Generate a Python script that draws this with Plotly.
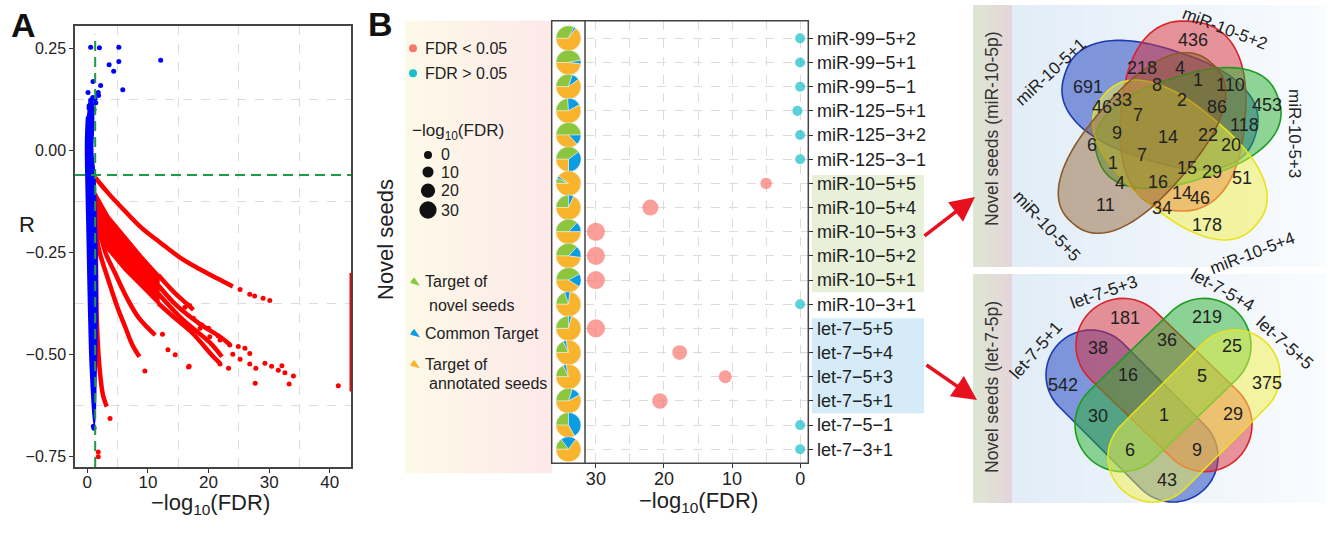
import math
import plotly.graph_objects as go

W, H = 1328, 535
FONT = "Liberation Sans, Arial, Helvetica, sans-serif"


def X(px):
    return px / W


def Y(py):
    return 1 - py / H


# ====================== Panel A data (x = -log10(FDR), y = R) ======================
fdr_cutoff = 1.3
r_cutoff = -0.06

blue_core_x = [0.2, 0.8, 1.0, 0.85, 1.2, 1.4, 1.55, 1.6, 1.55, 1.4, 1.3, 1.16, 0.95, 0.7, 0.45, 0.2, 0.0, -0.2, -0.25, -0.1]
blue_core_R = [0.125, 0.12, 0.07, 0.0, -0.06, -0.15, -0.25, -0.35, -0.45, -0.55, -0.62, -0.67, -0.64, -0.58, -0.5, -0.35, -0.2, -0.06, 0.02, 0.08]

blue_pts_x = [0.55, 2.0, 5.2, 12.1, 3.6, 5.2, 4.35, 5.85, 0.95, 2.2, 0.12, 1.8, 1.85, 0.6, 1.27, 1.4,
              0.28, 1.1, 0.15, 0.55, 0.3, 0.9, 1.0, 1.1]
blue_pts_R = [0.253, 0.252, 0.253, 0.221, 0.21, 0.218, 0.194, 0.149, 0.169, 0.159, 0.142, 0.142, 0.135, 0.124, 0.126, 0.117,
              0.104, 0.1, 0.08, 0.087, 0.11, 0.13, -0.675, -0.68]

red_fan_x = [1.3, 3.47, 6.22, 8.97, 11.7, 11.7, 8.97, 6.22, 3.47, 2.0, 1.3]
red_fan_R = [-0.105, -0.162, -0.211, -0.26, -0.305, -0.374, -0.333, -0.292, -0.243, -0.215, -0.2]

red_top_x = [1.3, 3.2, 6.0, 9.0, 12.0, 15.3, 18.5, 21.4, 24.0]
red_top_R = [-0.066, -0.10, -0.145, -0.19, -0.225, -0.262, -0.29, -0.313, -0.333]

red_f1_x = [11.7, 14.5, 16.4, 17.5]
red_f1_R = [-0.305, -0.35, -0.375, -0.39]
red_f2_x = [11.7, 14.75, 18.6, 21.9, 23.5]
red_f2_R = [-0.33, -0.38, -0.425, -0.456, -0.475]
red_f3_x = [11.7, 15.8, 20.2, 22.2]
red_f3_R = [-0.35, -0.415, -0.47, -0.505]
red_f4_x = [11.7, 14.5, 17.2, 20.8, 21.9]
red_f4_R = [-0.374, -0.411, -0.445, -0.505, -0.521]

red_l1_x = [1.4, 1.8, 3.47, 5.0, 6.22, 7.4, 8.6]
red_l1_R = [-0.17, -0.235, -0.317, -0.385, -0.431, -0.475, -0.505]
red_l2_x = [1.5, 3.0, 4.57, 6.5, 8.5, 11.2]
red_l2_R = [-0.16, -0.25, -0.3, -0.36, -0.41, -0.452]
red_s_x = [1.35, 1.45, 1.6, 2.1, 2.6, 3.2]
red_s_R = [-0.2, -0.3, -0.43, -0.546, -0.6, -0.627]

red_pts_x = [16.1, 16.9, 17.5, 18.9, 18.6, 20.0, 20.2, 21.6, 21.9, 23.5, 24.9, 26.0, 24.0, 25.2, 26.8, 26.8, 27.8,
             29.3, 30.4, 32.1, 31.5, 32.6, 34.0, 23.3, 21.9, 16.8, 27.7, 33.3, 41.4, 9.5, 3.75, 1.8, 1.8, 12.4,
             13.3, 14.5, 16.7, 25.2, 26.8, 27.6, 29.0, 30.1]
red_pts_R = [-0.384, -0.38, -0.411, -0.427, -0.435, -0.435, -0.456, -0.454, -0.464, -0.476, -0.48, -0.484, -0.499,
             -0.511, -0.497, -0.523, -0.533, -0.521, -0.528, -0.527, -0.538, -0.544, -0.552, -0.533, -0.523, -0.528,
             -0.570, -0.572, -0.576, -0.54, -0.656, -0.738, -0.75, -0.45, -0.488, -0.50, -0.53, -0.34, -0.352,
             -0.356, -0.362, -0.367]

red_edge_x = [43.5, 43.5]
red_edge_R = [-0.30, -0.59]

# ====================== Panel B data ======================
seeds = ["miR-99−5+2", "miR-99−5+1", "miR-99−5−1", "miR-125−5+1", "miR-125−3+2", "miR-125−3−1",
         "miR-10−5+5", "miR-10−5+4", "miR-10−5+3", "miR-10−5+2", "miR-10−5+1", "miR-10−3+1",
         "let-7−5+5", "let-7−5+4", "let-7−5+3", "let-7−5+1", "let-7−5−1", "let-7−3+1"]
neglog_fdr = [0, 0, 0, 0.4, 0, 0, 5.0, 22.0, 30, 30, 30, 0, 30, 17.7, 11.0, 20.6, 0, 0]
pie_novel = [0.32, 0.47, 0.30, 0.24, 0.50, 0.40, 0.07, 0.25, 0.37, 0.37, 0.42, 0.20, 0.25, 0.18, 0.18, 0.30, 0.25, 0.15]
pie_common = [0.03, 0.05, 0.10, 0.18, 0.13, 0.35, 0.03, 0.07, 0.13, 0.15, 0.17, 0.07, 0.04, 0.04, 0.04, 0.12, 0.42, 0.20]
pie_annot = [0.65, 0.48, 0.60, 0.58, 0.37, 0.25, 0.90, 0.68, 0.50, 0.48, 0.41, 0.73, 0.71, 0.78, 0.78, 0.58, 0.33, 0.65]
size_legend_vals = [0, 10, 20, 30]

# ====================== Venn data ======================
venn1_sets = ["miR-10-5+1", "miR-10-5+2", "miR-10-5+3", "miR-10-5+4", "miR-10-5+5"]
venn1_counts = [436, 691, 218, 4, 8, 1, 110, 453, 46, 33, 2, 86, 7, 118, 9, 14, 22, 20, 6, 7, 1, 15, 29, 51, 4,
                16, 14, 46, 11, 34, 178]
venn2_sets = ["let-7-5+1", "let-7-5+3", "let-7-5+4", "let-7-5+5"]
venn2_counts = [181, 219, 38, 36, 25, 542, 16, 5, 375, 30, 1, 29, 6, 9, 43]

# layout positions (pixels) for the venn numbers
venn1_lx = [1193, 1088, 1142, 1180, 1157, 1198, 1230, 1267, 1102, 1122, 1182, 1217, 1138, 1244, 1117, 1168, 1208,
            1231, 1092, 1142, 1113, 1187, 1212, 1242, 1120, 1158, 1182, 1200, 1105, 1162, 1207]
venn1_ly = [40, 87, 68, 68, 85, 80, 85, 105, 107, 100, 100, 107, 115, 125, 133, 137, 135, 145, 145, 155, 163, 168,
            172, 178, 183, 182, 193, 198, 205, 208, 225]
venn2_lx = [1125, 1207, 1098, 1167, 1232, 1063, 1128, 1202, 1267, 1098, 1164, 1233, 1130, 1197, 1167]
venn2_ly = [318, 317, 348, 340, 346, 385, 375, 376, 383, 416, 415, 414, 450, 450, 480]

# ====================== styles ======================
C_BLUE_PT = "#0000ff"
C_RED_PT = "#ff0000"
C_SIG = "#F8766D"
C_NS = "#16BFC6"
C_NOVEL = "#8cc63e"
C_COMMON = "#0b9de3"
C_ANNOT = "#f8b42c"

fig = go.Figure()

# ---------------- Panel A traces ----------------
A_XR = [-2.03, 43.5]
A_YR = [-0.775, 0.305]

fig.add_trace(go.Scatter(x=red_fan_x, y=red_fan_R, mode="lines", fill="toself", fillcolor=C_RED_PT,
                         line=dict(color=C_RED_PT, width=3), xaxis="x", yaxis="y", hoverinfo="skip"))
for cx, cy in [(red_top_x, red_top_R), (red_f1_x, red_f1_R), (red_f2_x, red_f2_R), (red_f3_x, red_f3_R),
               (red_f4_x, red_f4_R), (red_l1_x, red_l1_R), (red_l2_x, red_l2_R), (red_s_x, red_s_R)]:
    fig.add_trace(go.Scatter(x=cx, y=cy, mode="lines", line=dict(color=C_RED_PT, width=4.5, shape="spline"),
                             xaxis="x", yaxis="y", hoverinfo="skip"))
fig.add_trace(go.Scatter(x=red_pts_x, y=red_pts_R, mode="markers", marker=dict(color=C_RED_PT, size=5),
                         xaxis="x", yaxis="y", hoverinfo="skip"))
fig.add_trace(go.Scatter(x=red_edge_x, y=red_edge_R, mode="lines", line=dict(color=C_RED_PT, width=3),
                         xaxis="x", yaxis="y", hoverinfo="skip"))
fig.add_trace(go.Scatter(x=blue_core_x, y=blue_core_R, mode="lines", fill="toself", fillcolor=C_BLUE_PT,
                         line=dict(color=C_BLUE_PT, width=2, shape="spline"), xaxis="x", yaxis="y", hoverinfo="skip"))
fig.add_trace(go.Scatter(x=blue_pts_x, y=blue_pts_R, mode="markers", marker=dict(color=C_BLUE_PT, size=5),
                         xaxis="x", yaxis="y", hoverinfo="skip"))

# ---------------- Panel B dots ----------------
n = len(seeds)
ypos = [n - 1 - i for i in range(n)]
B_YR = [-0.58, n - 1 + 0.73]
dot_col = [C_SIG if v > fdr_cutoff else C_NS for v in neglog_fdr]
dot_size = [10 + 0.27 * v for v in neglog_fdr]
fig.add_trace(go.Scatter(x=neglog_fdr, y=ypos, mode="markers",
                         marker=dict(color=dot_col, size=dot_size, line=dict(width=0)),
                         xaxis="x2", yaxis="y2", hoverinfo="skip"))

# pies in the left column of panel B
B_TOP, B_BOT = 20.7, 463.3
for i in range(n):
    frac = (B_YR[1] - ypos[i]) / (B_YR[1] - B_YR[0])
    cy = B_TOP + frac * (B_BOT - B_TOP)
    cx = 568.5
    r = 12.5
    fig.add_trace(go.Pie(values=[pie_novel[i], pie_common[i], pie_annot[i]],
                         marker=dict(colors=[C_NOVEL, C_COMMON, C_ANNOT], line=dict(color="#f2f2f2", width=0.5)),
                         sort=False, direction="clockwise", rotation=270, textinfo="none", hoverinfo="skip",
                         showlegend=False,
                         domain=dict(x=[X(cx - r), X(cx + r)], y=[Y(cy + r), Y(cy - r)])))

shapes = []
annotations = []


def grad_strips(x0, x1, y0, y1, c0, c1, nstrip=30):
    for k in range(nstrip):
        t = k / (nstrip - 1)
        col = "rgb(%d,%d,%d)" % tuple(round(c0[j] + (c1[j] - c0[j]) * t) for j in range(3))
        xa = x0 + (x1 - x0) * k / nstrip
        xb = x0 + (x1 - x0) * (k + 1) / nstrip + 0.6
        shapes.append(dict(type="rect", xref="paper", yref="paper", x0=X(xa), x1=X(min(xb, x1)), y0=Y(y1), y1=Y(y0),
                           fillcolor=col, line=dict(width=0), layer="below"))


# legend background of panel B
grad_strips(405, 552, 20.7, 473.3, (253, 249, 232), (252, 233, 232))
# label highlights
shapes.append(dict(type="rect", xref="paper", yref="paper", x0=X(811.7), x1=X(924), y0=Y(292.3), y1=Y(175),
                   fillcolor="#e8f0da", line=dict(width=0), layer="below"))
shapes.append(dict(type="rect", xref="paper", yref="paper", x0=X(811.7), x1=X(924), y0=Y(413.3), y1=Y(318.3),
                   fillcolor="#d6ebf8", line=dict(width=0), layer="below"))
# venn panel backgrounds
for (t0, t1) in [(5, 267), (274, 503)]:
    grad_strips(973, 1012, t0, t1, (221, 230, 211), (229, 213, 218), 10)
    grad_strips(1012, 1326, t0, t1, (226, 237, 247), (249, 251, 254), 30)

# panel B frame
shapes.append(dict(type="rect", xref="paper", yref="paper", x0=X(551.7), x1=X(808.3), y0=Y(463.3), y1=Y(20.7),
                   line=dict(color="#444", width=1.5), layer="above"))
shapes.append(dict(type="line", xref="paper", yref="paper", x0=X(585), x1=X(585), y0=Y(463.3), y1=Y(20.7),
                   line=dict(color="#444", width=1.5), layer="above"))

# green cut-off lines in panel A
shapes.append(dict(type="line", xref="x", yref="y domain", x0=fdr_cutoff, x1=fdr_cutoff, y0=0, y1=0.98,
                   line=dict(color="#1e9a46", width=2, dash="10px,6px"), layer="above"))
shapes.append(dict(type="line", xref="x domain", yref="y", x0=0, x1=1, y0=r_cutoff, y1=r_cutoff,
                   line=dict(color="#1e9a46", width=2, dash="10px,6px"), layer="above"))


# ---------------- Venn shapes ----------------
def path_from(pts):
    s = "M %.5f,%.5f " % (X(pts[0][0]), Y(pts[0][1]))
    s += " ".join("L %.5f,%.5f" % (X(px), Y(py)) for px, py in pts[1:])
    return s + " Z"


def superellipse_pts(cx, cy, a, b, th, p=2.4, m=90):
    t = math.radians(th)
    ux, uy, vx, vy = math.cos(t), math.sin(t), -math.sin(t), math.cos(t)
    out = []
    for k in range(m):
        s = 2 * math.pi * k / m
        cu, su = math.cos(s), math.sin(s)
        u = a * math.copysign(abs(cu) ** (2 / p), cu)
        v = b * math.copysign(abs(su) ** (2 / p), su)
        out.append((cx + u * ux + v * vx, cy + u * uy + v * vy))
    return out


def stadium_pts(cx, cy, h, r, th, m=36):
    t = math.radians(th)
    ux, uy, vx, vy = math.cos(t), math.sin(t), -math.sin(t), math.cos(t)
    out = []
    c1 = (cx + h * ux, cy + h * uy)
    c2 = (cx - h * ux, cy - h * uy)
    for k in range(m + 1):
        s = -math.pi / 2 + math.pi * k / m
        out.append((c1[0] + r * (math.cos(s) * ux + math.sin(s) * vx), c1[1] + r * (math.cos(s) * uy + math.sin(s) * vy)))
    for k in range(m + 1):
        s = math.pi / 2 + math.pi * k / m
        out.append((c2[0] + r * (math.cos(s) * ux + math.sin(s) * vx), c2[1] + r * (math.cos(s) * uy + math.sin(s) * vy)))
    return out


venn_cols = {
    "blue": ("rgba(40,75,195,0.55)", "#1b3cb0"),
    "red": ("rgba(220,45,55,0.5)", "#d8232a"),
    "green": ("rgba(40,175,45,0.5)", "#1e9c22"),
    "yellow": ("rgba(242,240,70,0.5)", "#e8e21e"),
    "brown": ("rgba(140,92,40,0.45)", "#8a5a28"),
}
venn1_geom = [("blue", 1160, 105, 100, 56, 18), ("red", 1183, 116, 95, 62, 95), ("green", 1188, 128, 95, 52, -18),
              ("yellow", 1180, 160, 100, 53, 40), ("brown", 1142, 143, 106, 52, -49)]
for col, cx, cy, a, b, th in venn1_geom:
    fc, lc = venn_cols[col]
    shapes.append(dict(type="path", xref="paper", yref="paper", path=path_from(superellipse_pts(cx, cy, a, b, th)),
                       fillcolor=fc, line=dict(color=lc, width=1.6), layer="below"))
venn2_geom = [("blue", 1132, 416, 58, 45, 45), ("red", 1164, 385, 57, 47, 44), ("green", 1163, 385, 57, 47, -44),
              ("yellow", 1194, 416, 58, 45, -45)]
for col, cx, cy, h, r, th in venn2_geom:
    fc, lc = venn_cols[col]
    shapes.append(dict(type="path", xref="paper", yref="paper", path=path_from(stadium_pts(cx, cy, h, r, th)),
                       fillcolor=fc, line=dict(color=lc, width=1.6), layer="below"))

# legend glyphs (panel B legend)
shapes.append(dict(type="circle", xref="paper", yref="paper", x0=X(409), x1=X(417), y0=Y(52.3), y1=Y(44.3),
                   fillcolor=C_SIG, line=dict(width=0)))
shapes.append(dict(type="circle", xref="paper", yref="paper", x0=X(409), x1=X(417), y0=Y(77.3), y1=Y(69.3),
                   fillcolor=C_NS, line=dict(width=0)))
leg_y = [155, 172, 190.7, 210]
for v, ly in zip(size_legend_vals, leg_y):
    d = 8 + 0.31 * v
    shapes.append(dict(type="circle", xref="paper", yref="paper", x0=X(428 - d / 2), x1=X(428 + d / 2),
                       y0=Y(ly + d / 2), y1=Y(ly - d / 2), fillcolor="#111", line=dict(width=0)))
    annotations.append(dict(x=X(439), y=Y(ly), xref="paper", yref="paper", text=str(v), showarrow=False,
                            xanchor="left", yanchor="middle", font=dict(size=16, color="#222", family=FONT)))


def wedge(vx, vy, r, a0, a1, m=10):
    pts = [(vx, vy)]
    for k in range(m + 1):
        a = math.radians(a0 + (a1 - a0) * k / m)
        pts.append((vx + r * math.cos(a), vy + r * math.sin(a)))
    return path_from(pts)


for wy, col in [(281.7, C_NOVEL), (333.3, C_COMMON), (364.3, C_ANNOT)]:
    shapes.append(dict(type="path", xref="paper", yref="paper", path=wedge(420, wy + 4, 10, 195, 235),
                       fillcolor=col, line=dict(width=0)))


def ann(px, py, text, size, anchor="center", angle=0, color="#222", bold=False):
    annotations.append(dict(x=X(px), y=Y(py), xref="paper", yref="paper", text=("<b>%s</b>" % text) if bold else text,
                            showarrow=False, xanchor=anchor, yanchor="middle", textangle=angle,
                            font=dict(size=size, color=color, family=FONT)))


ann(423, 48.3, "FDR &lt; 0.05", 16, "left")
ann(423, 73.3, "FDR &gt; 0.05", 16, "left")
ann(410, 131.7, "−log<sub>10</sub>(FDR)", 17, "left")
ann(423, 281.7, "Target of", 16, "left")
ann(427, 305, "novel seeds", 16, "left")
ann(423, 333.3, "Common Target", 16, "left")
ann(423, 364.3, "Target of", 16, "left")
ann(427, 384, "annotated seeds", 16, "left")

# panel labels & titles
ann(23, 25, "A", 34, bold=True, color="#111")
ann(380, 24, "B", 34, bold=True, color="#111")
ann(27, 225, "R", 22)
ann(210, 504, "−log<sub>10</sub>(FDR)", 22)
ann(698, 502, "−log<sub>10</sub>(FDR)", 22)
ann(385, 240, "Novel seeds", 22, angle=-90)

# venn texts
for c, px, py in zip(venn1_counts, venn1_lx, venn1_ly):
    ann(px, py, str(c), 18)
for c, px, py in zip(venn2_counts, venn2_lx, venn2_ly):
    ann(px, py, str(c), 18)
venn1_label_pos = [(1050, 72, -43), (1224, 29, 21), (1295, 133, 90), (1252, 254, -21), (1046, 226, 47)]
for name, (px, py, ang) in zip(venn1_sets, venn1_label_pos):
    ann(px, py, name, 17, angle=ang)
venn2_label_pos = [(1036, 350, -49), (1104, 292, -19), (1223, 290, 29), (1285, 343, 42)]
for name, (px, py, ang) in zip(venn2_sets, venn2_label_pos):
    ann(px, py, name, 17.5, angle=ang)
ann(992, 129, "Novel seeds (miR-10-5p)", 17.5, angle=-90, color="#333")
ann(992, 387, "Novel seeds (let-7-5p)", 17.5, angle=-90, color="#333")

# red arrows
for tip, dxy in [((975, 197), (-52, 40)), ((977, 400), (-52, -36))]:
    annotations.append(dict(x=X(tip[0]), y=Y(tip[1]), xref="paper", yref="paper", ax=dxy[0], ay=dxy[1],
                            showarrow=True, arrowhead=2, arrowsize=1.4, arrowwidth=3.5, arrowcolor="#e8101e",
                            text=""))

grid_dash = dict(showgrid=True, griddash="dash", gridcolor="#dcdcdc", gridwidth=1)

fig.update_layout(
    width=W, height=H, margin=dict(l=0, r=0, t=0, b=0), autosize=False,
    paper_bgcolor="white", plot_bgcolor="rgba(0,0,0,0)", showlegend=False,
    font=dict(family=FONT, color="#222"),
    xaxis=dict(domain=[X(75), X(351)], range=A_XR, anchor="y", showgrid=False, zeroline=False,
               tickmode="array", tickvals=[0, 10, 20, 30, 40], ticks="outside", ticklen=4, tickcolor="#333",
               showline=True, mirror=True, linecolor="#444", linewidth=1.5, ticklabelstandoff=-5,
               tickfont=dict(size=17, color="#222"),
               minor=dict(tickmode="array", tickvals=[5, 15, 25, 35], ticks="", **grid_dash)),
    yaxis=dict(domain=[Y(467), Y(26)], range=A_YR, anchor="x", showgrid=False, zeroline=False,
               tickmode="array", tickvals=[0.25, 0, -0.25, -0.5, -0.75], ticktext=["0.25", "0.00", "−0.25", "−0.50", "−0.75"],
               ticks="outside", ticklen=4, tickcolor="#333",
               showline=True, mirror=True, linecolor="#444", linewidth=1.5,
               tickfont=dict(size=16, color="#222"),
               minor=dict(tickmode="array", tickvals=[0.125, -0.125, -0.375, -0.625], ticks="", **grid_dash)),
    xaxis2=dict(domain=[X(585), X(808.3)], range=[31.6, -1.2], anchor="y2", zeroline=False,
                tickmode="array", tickvals=[30, 20, 10, 0], ticks="outside", ticklen=4, tickcolor="#333",
                tickfont=dict(size=18, color="#222"), showline=False, ticklabelstandoff=-5,
                **grid_dash,
                minor=dict(tickmode="array", tickvals=[25, 15, 5], ticks="", **grid_dash)),
    yaxis2=dict(domain=[Y(463.3), Y(20.7)], range=B_YR, anchor="x2", side="right", zeroline=False,
                tickmode="array", tickvals=ypos, ticktext=seeds, ticks="outside", ticklen=4, tickcolor="#333",
                tickfont=dict(size=18, color="#222"), showline=False, **grid_dash),
    shapes=shapes,
    annotations=annotations,
)

fig.write_html("out.html")
